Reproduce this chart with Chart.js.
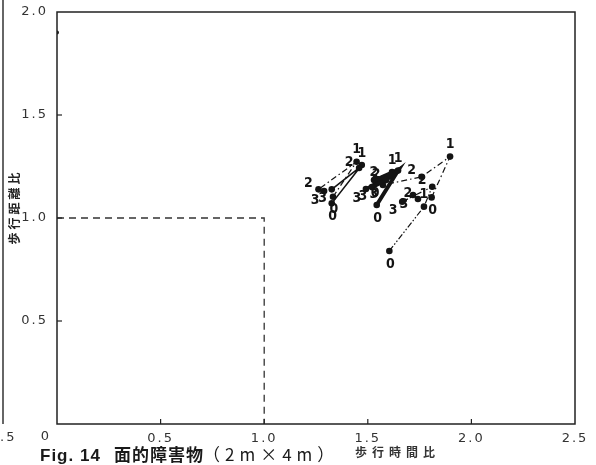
<!DOCTYPE html>
<html><head><meta charset="utf-8">
<script src="https://cdn.jsdelivr.net/npm/chart.js@4"></script>
<style>html,body{margin:0;padding:0;background:#fff}canvas{display:block}</style>
</head><body>
<canvas id="c" width="596" height="465"></canvas>
<script>
// ---- data (walking time ratio = x, walking distance ratio = y) ----
const xTicks = [0, 0.5, 1.0, 1.5, 2.0, 2.5];
const yTicks = [0, 0.5, 1.0, 1.5, 2.0];

const obstacleTime = [0, 1.0, 1.0];
const obstacleDist = [1.0, 1.0, 0];

const loneTime = [0.0];
const loneDist = [1.90];

const trialsL1 = ['0','1','2','3'];
const timeL1 = [1.332, 1.446, 1.262, 1.289];
const distL1 = [1.103, 1.273, 1.139, 1.131];

const trialsL2 = ['0','1','2','3'];
const timeL2 = [1.326, 1.471, 1.458, 1.326];
const distL2 = [1.071, 1.257, 1.243, 1.139];

const trialsM1 = ['0','1','2','3'];
const timeM1 = [1.543, 1.646, 1.588, 1.520];
const distM1 = [1.063, 1.230, 1.184, 1.150];

const trialsM2 = ['0','1','2','3'];
const timeM2 = [1.530, 1.617, 1.578, 1.491];
const distM2 = [1.184, 1.223, 1.194, 1.141];

const trialsR1 = ['0','1','2','3'];
const timeR1 = [1.808, 1.897, 1.760, 1.573];
const distR1 = [1.100, 1.298, 1.200, 1.160];

const trialsR2 = ['0','1','2','3'];
const timeR2 = [1.604, 1.771, 1.811, 1.666];
const distR2 = [0.840, 1.055, 1.152, 1.079];

const trialsR3 = ['3','2'];
const timeR3 = [1.718, 1.742];
const distR3 = [1.112, 1.092];

function pts(xs, ys){ return xs.map((v,i)=>({x:v, y:ys[i]})); }

const ink = '#141414';
function subj(xs, ys, trials, width, dash){
  return { data: pts(xs, ys), trials: trials, showLine: true, borderColor: ink, borderWidth: width,
    borderDash: dash, pointRadius: 3.3, pointBackgroundColor: ink, pointBorderWidth: 0, tension: 0 };
}

const datasets = [
  { data: pts(obstacleTime, obstacleDist), showLine: true, borderColor: '#333', borderWidth: 1.3,
    borderDash: [7,5], pointRadius: 0 },
  { data: pts(loneTime, loneDist), showLine: false, pointRadius: 2, pointBackgroundColor: ink, pointBorderWidth: 0 },
  subj(timeL1, distL1, trialsL1, 1.2, [6,3,1.5,3]),
  subj(timeL2, distL2, trialsL2, 1.6, []),
  subj(timeM1, distM1, trialsM1, 4, []),
  subj(timeM2, distM2, trialsM2, 3, []),
  subj(timeR1, distR1, trialsR1, 1.2, [6,3,1.5,3]),
  subj(timeR2, distR2, trialsR2, 1.2, [6,2,1.5,2,1.5,2]),
  subj(timeR3, distR3, trialsR3, 1.2, [4,3])
];

const labelOffset = { '0': [1, 13], '1': [0, -12], '2': [-10, -6], '3': [-9, 9] };

const decor = {
  id: 'decor',
  beforeDraw(chart){ chart.ctx.letterSpacing = '2px'; },
  afterDatasetsDraw(chart){
    const ctx = chart.ctx; const a = chart.chartArea;
    const xs = chart.scales.x, ys = chart.scales.y;
    ctx.save();
    // frame
    ctx.strokeStyle = '#222'; ctx.lineWidth = 1.5;
    ctx.strokeRect(a.left, a.top, a.right - a.left, a.bottom - a.top);
    // inward ticks
    ctx.lineWidth = 1.2;
    xTicks.forEach(v => { if (v > 0 && v < 2.5) { const p = xs.getPixelForValue(v);
      ctx.beginPath(); ctx.moveTo(p, a.bottom); ctx.lineTo(p, a.bottom - 5); ctx.stroke(); }});
    yTicks.forEach(v => { if (v > 0 && v < 2.0) { const p = ys.getPixelForValue(v);
      ctx.beginPath(); ctx.moveTo(a.left, p); ctx.lineTo(a.left + 5, p); ctx.stroke(); }});
    // trial labels
    ctx.letterSpacing = '0px';
    ctx.fillStyle = ink; ctx.font = "bold 14px 'DejaVu Sans Condensed','Liberation Sans Narrow','DejaVu Sans'";
    ctx.textAlign = 'center'; ctx.textBaseline = 'middle';
    chart.data.datasets.forEach((ds, di) => {
      if (!ds.trials) return;
      const meta = chart.getDatasetMeta(di);
      meta.data.forEach((el, i) => {
        const o = labelOffset[ds.trials[i]];
        ctx.fillText(ds.trials[i], el.x + o[0], el.y + o[1]);
      });
    });
    // zero label at corner
    ctx.letterSpacing = '2px';
    ctx.font = "13px 'DejaVu Sans'"; ctx.fillStyle = '#333';
    ctx.fillText('0', a.left - 11, a.bottom + 13);
    // y axis title
    ctx.save();
    ctx.translate(14, 207); ctx.rotate(-Math.PI/2);
    ctx.font = "bold 12px 'Noto Sans CJK JP'"; ctx.letterSpacing = '3px';
    ctx.fillStyle = '#222';
    ctx.fillText('歩行距離比', 0, 0);
    ctx.restore();
    // x axis title
    ctx.textAlign = 'left';
    ctx.font = "bold 12px 'Noto Sans CJK JP'"; ctx.letterSpacing = '5px';
    ctx.fillText('歩行時間比', 355, 452);
    // caption
    ctx.fillStyle = '#1a1a1a';
    ctx.font = "bold 17px 'Liberation Sans'"; ctx.letterSpacing = '1px';
    ctx.fillText('Fig. 14', 40, 456);
    ctx.font = "bold 17px 'Noto Sans CJK JP'"; ctx.letterSpacing = '1px';
    ctx.fillText('面的障害物', 114, 455);
    ctx.font = "17px 'Noto Sans CJK JP'"; ctx.letterSpacing = '5px';
    ctx.fillText('（2m×4m）', 203, 455);
    // neighbouring figure remnant at far left
    ctx.strokeStyle = '#333'; ctx.lineWidth = 1.5;
    ctx.beginPath(); ctx.moveTo(3, 0); ctx.lineTo(3, a.bottom); ctx.stroke();
    ctx.font = "13px 'DejaVu Sans'"; ctx.letterSpacing = '2px'; ctx.textAlign = 'left';
    ctx.fillStyle = '#333';
    ctx.fillText('.5', 0, 438);
    ctx.restore();
  }
};

new Chart(document.getElementById('c'), {
  type: 'scatter',
  data: { datasets },
  plugins: [decor],
  options: {
    responsive: false, animation: false,
    layout: { padding: { top: 12, right: 21, left: 0, bottom: 0 } },
    plugins: { legend: { display: false }, tooltip: { enabled: false } },
    scales: {
      x: { type: 'linear', min: 0, max: 2.5,
        afterBuildTicks: s => { s.ticks = xTicks.map(v => ({ value: v })); },
        afterFit: s => { s.height = 41; s.paddingLeft = 0; s.paddingRight = 0; },
        grid: { display: false, drawTicks: false }, border: { display: false },
        ticks: { padding: 7, color: '#333', font: { family: 'DejaVu Sans', size: 13 },
          callback: v => v === 0 ? '' : v.toFixed(1) } },
      y: { type: 'linear', min: 0, max: 2.0,
        afterBuildTicks: s => { s.ticks = yTicks.map(v => ({ value: v })); },
        afterFit: s => { s.width = 57; s.paddingTop = 0; s.paddingBottom = 0; },
        grid: { display: false, drawTicks: false }, border: { display: false },
        ticks: { padding: 9, color: '#333', font: { family: 'DejaVu Sans', size: 13 },
          callback: v => v === 0 ? '' : v.toFixed(1) } }
    }
  }
});
</script>
</body></html>
